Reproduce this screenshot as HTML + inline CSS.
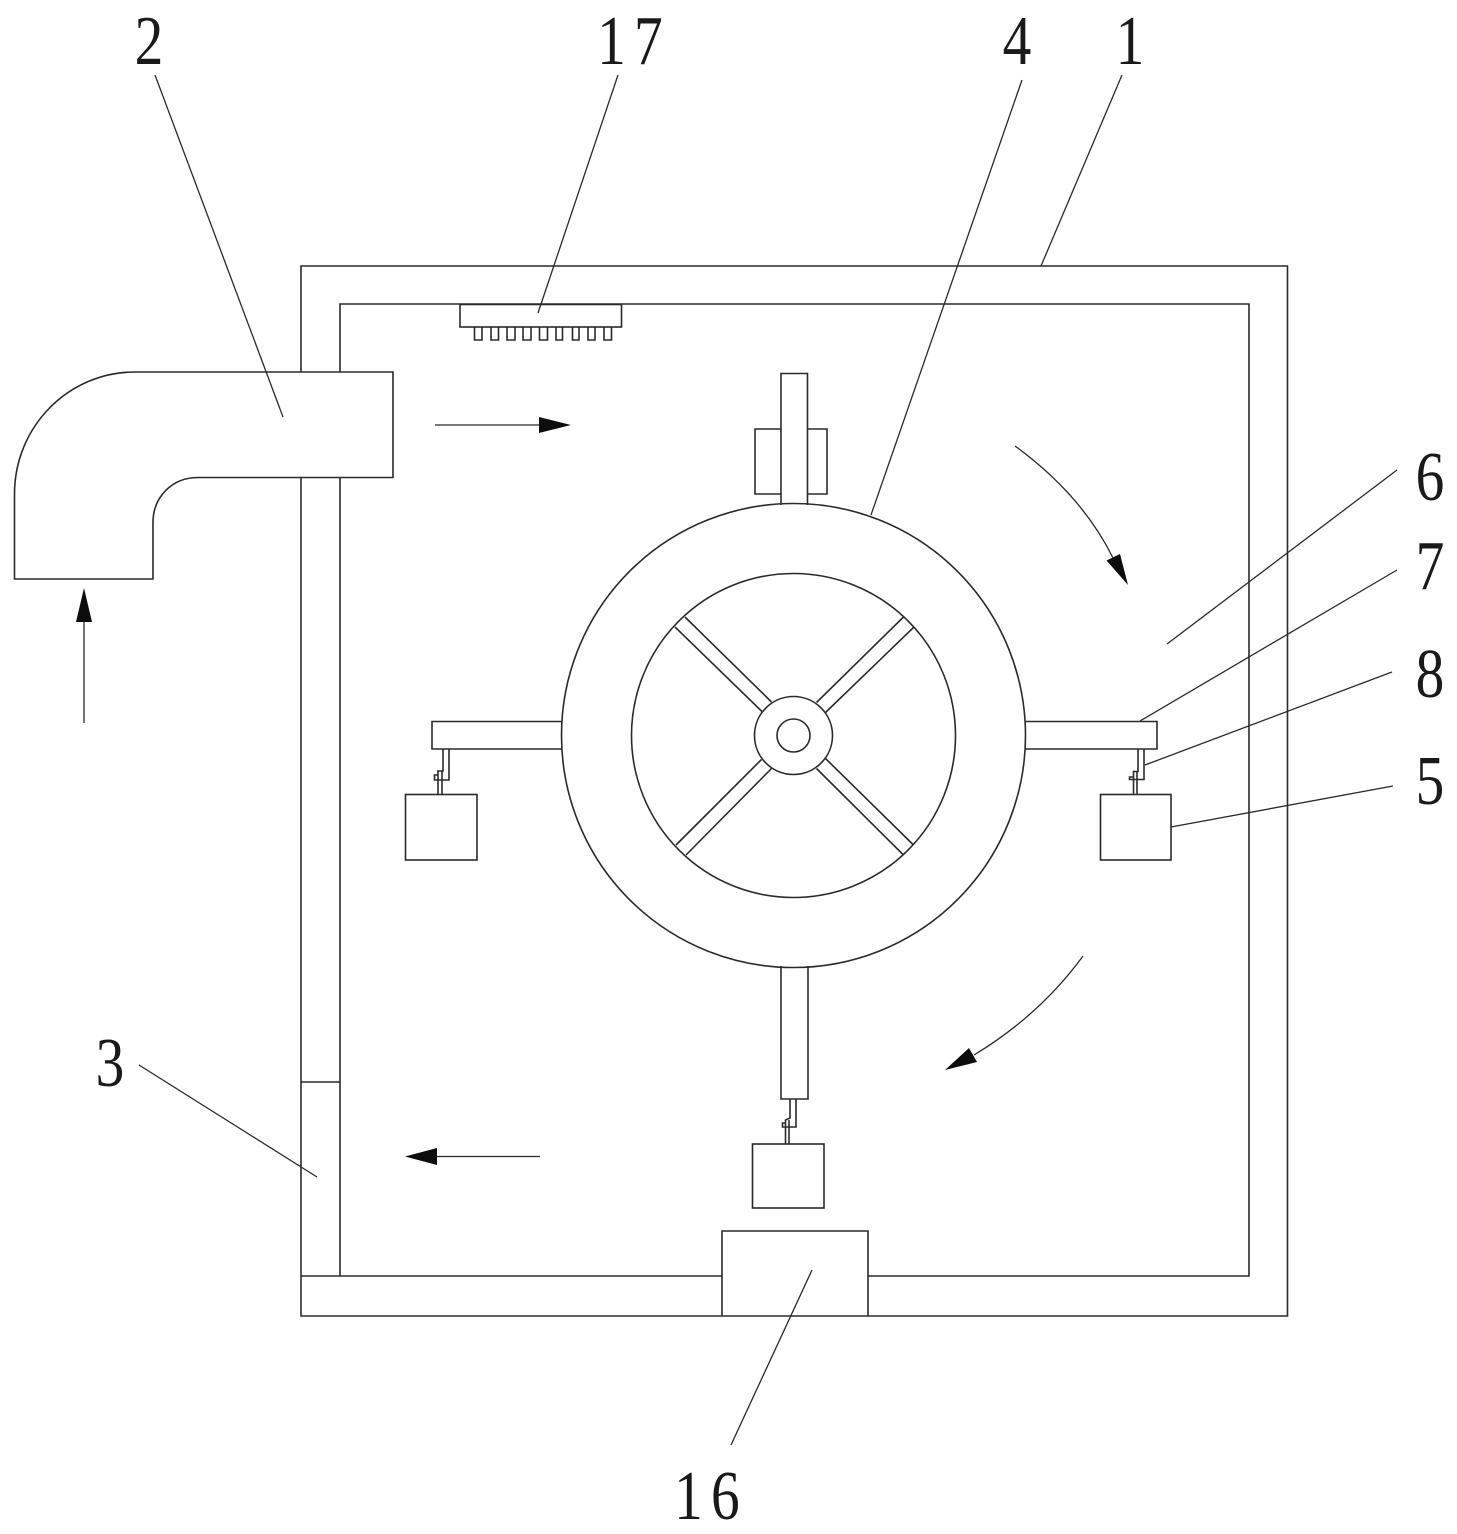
<!DOCTYPE html>
<html><head><meta charset="utf-8"><style>html,body{margin:0;padding:0;background:#fff}svg{display:block}text{font-family:"Liberation Serif",serif;font-size:70px;fill:#1a1a1a}</style></head><body>
<svg width="1457" height="1534" viewBox="0 0 1457 1534" xmlns="http://www.w3.org/2000/svg">
<g fill="none" stroke="#2a2a2a" stroke-width="1.6">
<!-- housing -->
<path d="M301,372V266H1287.500V1316H301V477"/>
<path d="M340,372V304H1249V1276H868M722,1276H301M340,1276V477"/>
<path d="M301,1082H340"/>
<path d="M722,1316V1231H868V1316"/>
<!-- duct -->
<path d="M135,372H393V477.500H198C172,477.500 153,497 153,522.500V579H14.500V494C14.500,427 68,372 135,372Z"/>
<!-- nozzle -->
<rect x="460" y="304.500" width="161.500" height="22.500"/>
<path d="M474.500,327V340H482V327M491,327V340H498.500V327M507,327V340H515V327M523,327V340H531V327M539.500,327V340H547.500V327M556,327V340H562.500V327M572.500,327V340H579V327M588,327V340H595V327M604,327V340H611.500V327"/>
<!-- wheel -->
<circle cx="793.500" cy="735.500" r="232"/>
<circle cx="793.500" cy="735.500" r="162"/>
<circle cx="793.500" cy="735.500" r="39"/>
<circle cx="793.500" cy="735.500" r="16.500"/>
<path d="M685,617L771.500,702M675,627L762.500,712M903.500,617L816.500,702.500M913.500,627.500L825.500,712.500M676,845L761.500,759.500M686,855L771.500,768.500M913.500,845L825.500,758.500M903.500,855L816.500,768.500"/>
<!-- top arm -->
<path d="M781,429H755V494H781M807,429H827V494H807"/>
<path d="M781,505V373.500H807.500V505"/>
<!-- right arm -->
<path d="M1025,721.500H1157V749H1025"/>
<path d="M1138,749V771.500H1133.500V794M1137,771.500V794M1144,749V779.500H1129.500V777H1133.500"/>
<rect x="1100.500" y="794.500" width="70.500" height="65.500"/>
<!-- left arm -->
<path d="M562,721.500H432V749H562"/>
<path d="M443,749V771H438V794M442,771V794M449,749V780H434.500V775H438"/>
<rect x="405.500" y="794.500" width="71.500" height="65.500"/>
<!-- bottom arm -->
<path d="M781,966V1099H808V966"/>
<path d="M790,1099V1118L785.500,1120V1144M789,1120V1144M796,1099V1127H782.500V1123H785.500"/>
<rect x="752.500" y="1144" width="71.500" height="64"/>
<!-- leaders -->
<g stroke-width="1.300">
<path d="M155,75L283,417"/>
<path d="M618,75L538,313"/>
<path d="M1022,80L871,515"/>
<path d="M1122,75L1041,266"/>
<path d="M1397,470L1167,644"/>
<path d="M1397,570L1140,721"/>
<path d="M1392,672L1145,765"/>
<path d="M1393,786L1171,827"/>
<path d="M139,1065L317,1177"/>
<path d="M812,1270L731,1445"/>
<!-- flow arrows -->
<path d="M435,425H545"/>
<path d="M84,723V615"/>
<path d="M540,1156.500H430"/>
<path d="M1015,446Q1082,495 1113,558"/>
<path d="M1083,956Q1040,1015 974,1055"/>
</g>
</g>
<g fill="#0d0d0d">
<polygon points="539,417 571,425 539,433"/>
<polygon points="84,588 92,622 76,622"/>
<polygon points="405,1156.500 437,1148 437,1165"/>
<polygon points="1106.500,560.500 1120,554 1128,585"/>
<polygon points="969,1048 977,1062 945,1070"/>
</g>
<g>
<text transform="translate(149,64) scale(.82,1)" text-anchor="middle">2</text>
<text transform="translate(634,64) scale(.82,1)" text-anchor="middle" letter-spacing="10">17</text>
<text transform="translate(1017,64) scale(.82,1)" text-anchor="middle">4</text>
<text transform="translate(1130,64) scale(.82,1)" text-anchor="middle">1</text>
<text transform="translate(1430,500) scale(.82,1)" text-anchor="middle">6</text>
<text transform="translate(1430,589) scale(.82,1)" text-anchor="middle">7</text>
<text transform="translate(1430,697) scale(.82,1)" text-anchor="middle">8</text>
<text transform="translate(1430,804) scale(.82,1)" text-anchor="middle">5</text>
<text transform="translate(110,1086) scale(.82,1)" text-anchor="middle">3</text>
<text transform="translate(711,1519) scale(.82,1)" text-anchor="middle" letter-spacing="10">16</text>
</g>
</svg>
</body></html>
